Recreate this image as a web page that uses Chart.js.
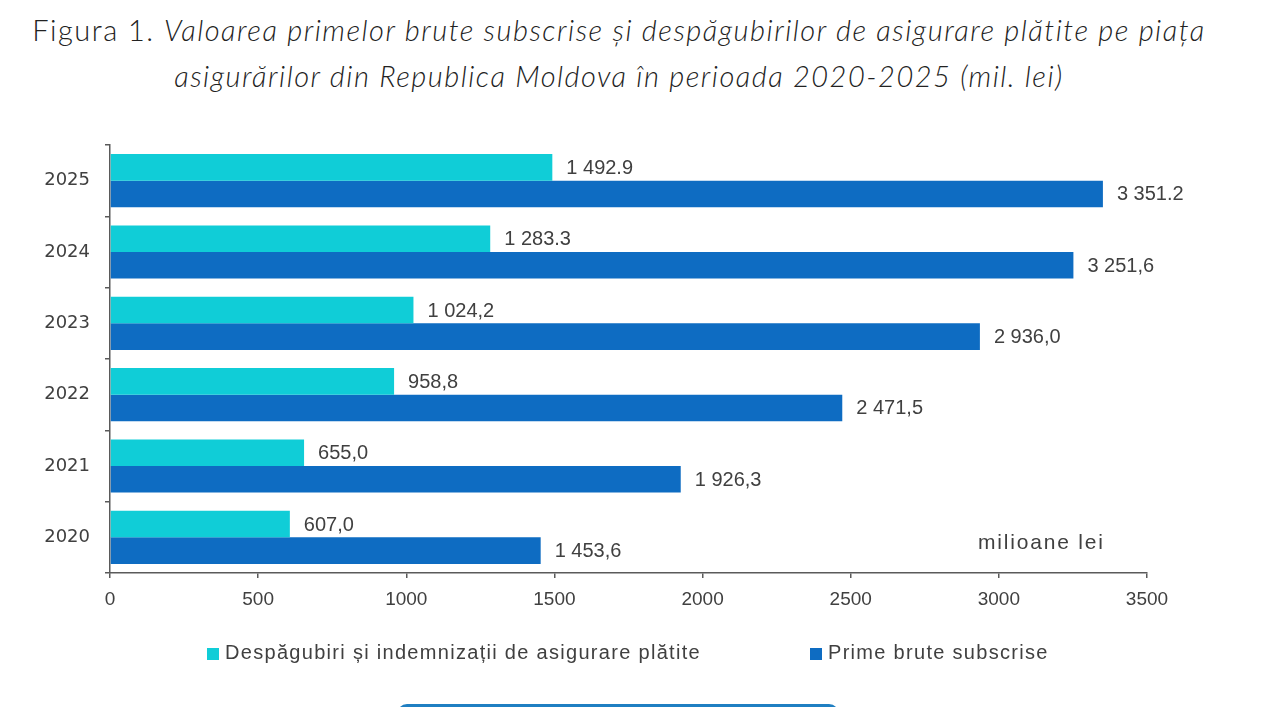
<!DOCTYPE html>
<html>
<head>
<meta charset="utf-8">
<script src="https://cdn.jsdelivr.net/npm/chart.js@4"></script>
<style>
  html, body { margin: 0; padding: 0; background: #fff; }
  body { width: 1280px; height: 707px; position: relative; overflow: hidden; }
  #title {
    position: absolute; left: 0; top: 7px; width: 1238px; text-align: center;
    font-family: Lato, sans-serif; font-weight: 300; font-size: 29px; line-height: 46px;
    letter-spacing: 1.5px; color: #222;
  }
  #title i { font-style: italic; }
  #chart { position: absolute; left: 0; top: 0; }
  #unit {
    position: absolute; left: 978px; top: 530px; letter-spacing: 1.8px;
    font-family: "Liberation Sans", Arial, sans-serif; font-size: 21px; color: #404040;
  }
  #legend {
    position: absolute; top: 641px; left: 0; width: 1280px; height: 26px; letter-spacing: 1.3px;
    font-family: "Liberation Sans", Arial, sans-serif; font-size: 20px; color: #404040;
  }
  #legend span { position: absolute; top: 0; white-space: nowrap; }
  #legend b { display: inline-block; width: 12px; height: 12px; margin-right: 6px; vertical-align: -1px; }
  #tab {
    position: absolute; left: 397px; top: 704px; width: 442px; height: 20px;
    border-radius: 10px; background: #1f7fc2;
  }
</style>
</head>
<body>
<div id="title">Figura 1. <i>Valoarea primelor brute subscrise și despăgubirilor de asigurare plătite pe piața</i><br><i>asigurărilor din Republica Moldova în perioada 2020-2025 (mil. lei)</i></div>
<canvas id="chart" width="1280" height="707"></canvas>
<div id="unit">milioane lei</div>
<div id="legend"></div>
<div id="tab"></div>
<script>
// Labels
let years = ['2025', '2024', '2023', '2022', '2021', '2020'];
let xTicks = [0, 500, 1000, 1500, 2000, 2500, 3000, 3500];

// Datas
let despagubiri = [1492.9, 1283.3, 1024.2, 958.8, 655.0, 607.0];
let prime       = [3351.2, 3251.6, 2936.0, 2471.5, 1926.3, 1453.6];

// Value labels as printed in the figure
let despagubiriText = ['1 492.9', '1 283.3', '1 024,2', '958,8', '655,0', '607,0'];
let primeText       = ['3 351.2', '3 251,6', '2 936,0', '2 471,5', '1 926,3', '1 453,6'];

let seriesNames = ['Despăgubiri și indemnizații de asigurare plătite', 'Prime brute subscrise'];
let seriesColors = ['#10cdd7', '#0e6cc2'];

const axisColor = '#5a5a5a';
const textColor = '#404040';

const valueLabels = {
    id: 'valueLabels',
    afterDatasetsDraw(chart) {
        const ctx = chart.ctx;
        ctx.save();
        ctx.font = '20px "Liberation Sans", Arial, sans-serif';
        ctx.fillStyle = textColor;
        ctx.textBaseline = 'middle';
        chart.data.datasets.forEach((ds, i) => {
            chart.getDatasetMeta(i).data.forEach((bar, j) => {
                ctx.fillText(ds.valueText[j], bar.x + 14, bar.y + 1);
            });
        });
        ctx.restore();
    }
};

let ctx = document.getElementById('chart').getContext('2d');
let myChart = new Chart(ctx, {
    type: 'bar',
    data: {
        labels: years,
        datasets: [
            {
                data: despagubiri,
                valueText: despagubiriText,
                label: seriesNames[0],
                backgroundColor: seriesColors[0]
            },
            {
                data: prime,
                valueText: primeText,
                label: seriesNames[1],
                backgroundColor: seriesColors[1]
            }
        ]
    },
    options: {
        indexAxis: 'y',
        responsive: false,
        animation: false,
        devicePixelRatio: 1,
        layout: { padding: { top: 145, right: 133, left: 0, bottom: 0 } },
        datasets: { bar: { categoryPercentage: 0.745, barPercentage: 1.0 } },
        plugins: {
            legend: { display: false },
            tooltip: { enabled: false }
        },
        scales: {
            x: {
                min: 0,
                max: 3500,
                afterFit: (s) => { s.height = 134; },
                afterBuildTicks: (s) => { s.ticks = xTicks.map(v => ({ value: v })); },
                ticks: {
                    color: textColor,
                    padding: 10,
                    callback: (v) => String(v),
                    font: { family: '"Liberation Sans", Arial, sans-serif', size: 19 }
                },
                grid: { drawOnChartArea: false, tickLength: 5, color: axisColor, lineWidth: 1.5 },
                border: { color: axisColor, width: 1.5 }
            },
            y: {
                afterFit: (s) => { s.width = 110; },
                ticks: {
                    color: textColor,
                    padding: 15,
                    font: { family: '"DejaVu Sans", sans-serif', size: 18 }
                },
                grid: { drawOnChartArea: false, tickLength: 5, color: axisColor, lineWidth: 1.5 },
                border: { color: axisColor, width: 1.5 }
            }
        }
    },
    plugins: [valueLabels]
});

// Legend in the figure's layout
let legendPos = [207, 810];
let legend = document.getElementById('legend');
seriesNames.forEach((name, i) => {
    let item = document.createElement('span');
    item.style.left = legendPos[i] + 'px';
    item.innerHTML = '<b style="background:' + seriesColors[i] + '"></b>' + name;
    legend.appendChild(item);
});
</script>
</body>
</html>
